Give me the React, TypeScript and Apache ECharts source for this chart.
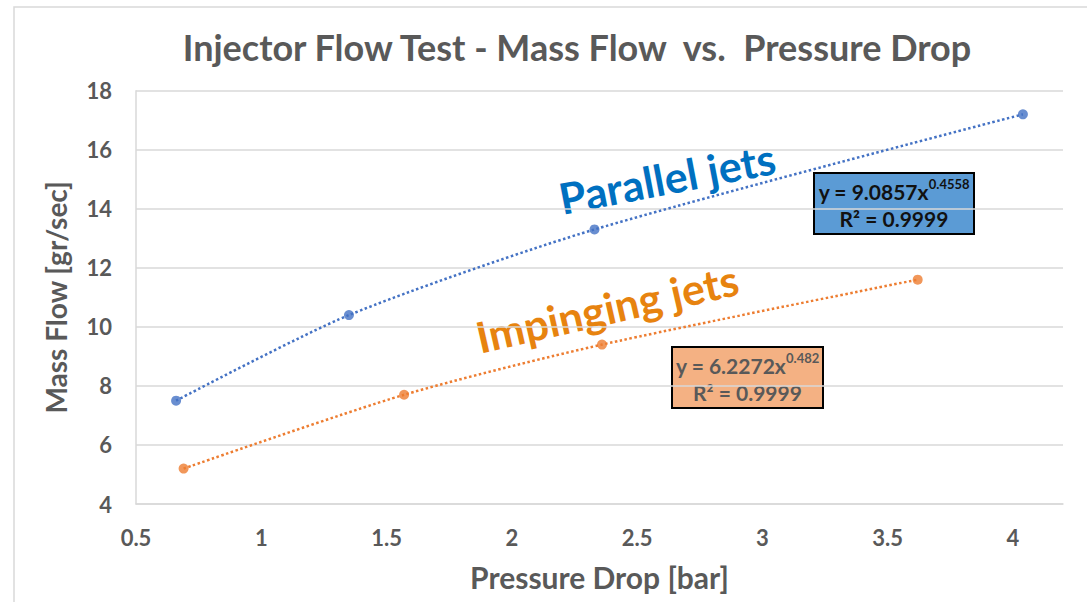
import React, { useEffect, useRef } from "react";
import * as echarts from "echarts";

// Measured data
const parallelX = [0.66, 1.35, 2.33, 4.04];
const parallelY = [7.5, 10.4, 13.3, 17.2];
const impingingX = [0.69, 1.57, 2.36, 3.62];
const impingingY = [5.2, 7.7, 9.4, 11.6];

const titleText = "Injector Flow Test - Mass Flow  vs.  Pressure Drop";
const xName = "Pressure Drop [bar]";
const yName = "Mass Flow [gr/sec]";
const parallelEq = ["y = 9.0857x", "0.4558", "R² = 0.9999"];
const impingingEq = ["y = 6.2272x", "0.482", "R² = 0.9999"];

const BLUE = "#4472C4";
const ORANGE = "#ED7D31";
const GREY = "#595959";
const FONT = "Lato, 'Open Sans', sans-serif";

export default function App() {
  const ref = useRef<HTMLDivElement>(null);
  useEffect(() => {
    const chart = echarts.init(ref.current!, null, { renderer: "svg" });
    const pairs = (xs: number[], ys: number[]) => xs.map((x, i) => [x, ys[i]]);
    const parallel = pairs(parallelX, parallelY);
    const impinging = pairs(impingingX, impingingY);
    const deg = Math.PI / 180;

    const eqBox = (x: number, y: number, w: number, h: number, fill: string, color: string, eq: string[]) => ({
      type: "group",
      children: [
        { type: "rect", shape: { x, y, width: w, height: h }, style: { fill, stroke: "#000", lineWidth: 2 } },
        {
          type: "text",
          x: x + w / 2,
          y: y + 18,
          style: {
            text: `{a|${eq[0]}}{s|${eq[1]}}`,
            align: "center",
            verticalAlign: "middle",
            rich: {
              a: { fontSize: 21, fontWeight: "bold", fontFamily: FONT, fill: color },
              s: { fontSize: 13, fontWeight: "bold", fontFamily: FONT, fill: color, padding: [0, 0, 14, 0] },
            },
          },
        },
        {
          type: "text",
          x: x + w / 2,
          y: y + 45,
          style: {
            text: eq[2],
            align: "center",
            verticalAlign: "middle",
            fontSize: 21,
            fontWeight: "bold",
            fontFamily: FONT,
            fill: color,
          },
        },
      ],
    });

    chart.setOption({
      animation: false,
      backgroundColor: "#ffffff",
      grid: { left: 136, right: 24, top: 90.7, bottom: 98, containLabel: false },
      xAxis: {
        type: "value",
        min: 0.5,
        max: 4.2,
        interval: 0.5,
        axisLine: { show: true, lineStyle: { color: "#D9D9D9", width: 1.5 } },
        axisTick: { show: false },
        splitLine: { show: false },
        axisLabel: {
          showMaxLabel: false,
          color: GREY,
          fontWeight: "bold",
          fontSize: 22,
          fontFamily: FONT,
          margin: 22,
        },
        name: xName,
        nameLocation: "middle",
        nameGap: 58,
        nameTextStyle: { color: GREY, fontWeight: "bold", fontSize: 30, fontFamily: FONT },
      },
      yAxis: {
        type: "value",
        min: 4,
        max: 18,
        interval: 2,
        axisLine: { show: true, lineStyle: { color: "#D9D9D9", width: 1.5 } },
        axisTick: { show: false },
        splitLine: { show: true, lineStyle: { color: "#D9D9D9", width: 1.5 } },
        axisLabel: { color: GREY, fontWeight: "bold", fontSize: 22, fontFamily: FONT, margin: 24 },
        name: yName,
        nameLocation: "middle",
        nameGap: 66,
        nameTextStyle: { color: GREY, fontWeight: "bold", fontSize: 28, fontFamily: FONT },
      },
      series: [
        {
          name: "Parallel trend",
          type: "line",
          data: parallel,
          smooth: 0.25,
          symbol: "none",
          lineStyle: { color: BLUE, width: 2.5, type: [2.5, 2.5] },
          z: 2,
        },
        {
          name: "Impinging trend",
          type: "line",
          data: impinging,
          smooth: 0.25,
          symbol: "none",
          lineStyle: { color: ORANGE, width: 2.5, type: [2.5, 2.5] },
          z: 2,
        },
        { name: "Parallel jets", type: "scatter", data: parallel, symbolSize: 10, itemStyle: { color: BLUE }, z: 3 },
        { name: "Impinging jets", type: "scatter", data: impinging, symbolSize: 10, itemStyle: { color: ORANGE }, z: 3 },
      ],
      graphic: [
        {
          type: "rect",
          shape: { x: 14, y: 7, width: 1200, height: 700 },
          style: { fill: "none", stroke: "#D9D9D9", lineWidth: 1.5 },
          silent: true,
        },
        {
          type: "text",
          x: 577,
          y: 47,
          style: {
            text: titleText,
            align: "center",
            verticalAlign: "middle",
            fontSize: 36,
            fontWeight: "bold",
            fontFamily: FONT,
            fill: GREY,
          },
        },
        {
          type: "text",
          x: 667,
          y: 178,
          rotation: 10.9 * deg,
          style: {
            text: "Parallel jets",
            align: "center",
            verticalAlign: "middle",
            fontSize: 43,
            fontWeight: "bold",
            fontFamily: FONT,
            fill: "#0070C0",
          },
        },
        {
          type: "text",
          x: 607,
          y: 308,
          rotation: 12.8 * deg,
          style: {
            text: "Impinging jets",
            align: "center",
            verticalAlign: "middle",
            fontSize: 43,
            fontWeight: "bold",
            fontFamily: FONT,
            fill: "#E7830F",
          },
        },
        eqBox(814, 173, 160, 61, "#5B9BD5", "#111111", parallelEq),
        eqBox(672, 347, 151, 61, "#F4B183", GREY, impingingEq),
      ],
    });
    return () => chart.dispose();
  }, []);
  return <div ref={ref} style={{ position: "absolute", left: 0, top: 0, width: 1087, height: 602 }} />;
}
